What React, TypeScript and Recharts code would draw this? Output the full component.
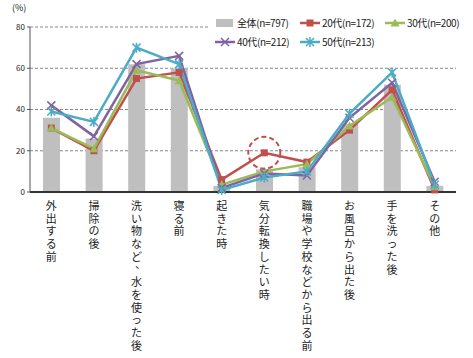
import { Bar, CartesianGrid, ComposedChart, Line, ReferenceDot, XAxis, YAxis } from "recharts";

const categories = [
  "外出する前",
  "掃除の後",
  "洗い物など、水を使った後",
  "寝る前",
  "起きた時",
  "気分転換したい時",
  "職場や学校などから出る前",
  "お風呂から出た後",
  "手を洗った後",
  "その他",
];
const total = [36, 26, 62, 60, 3, 11, 12, 33, 52, 3];
const age20 = [31, 20, 55, 58, 6, 19, 14.5, 30, 49.5, 1];
const age30 = [31, 21, 59, 54, 3.5, 10, 13.5, 32, 46, 2.5];
const age40 = [42, 27, 62, 66, 2, 9, 8, 36, 53, 5];
const age50 = [39, 34, 70, 62, 1, 7, 10, 38, 58, 3.5];
const yTicks = [0, 20, 40, 60, 80];

const seriesNames = ["全体(n=797)", "20代(n=172)", "30代(n=200)", "40代(n=212)", "50代(n=213)"];
const COLORS = ["#BFBFBF", "#C0504D", "#9BBB59", "#8064A2", "#4BACC6"];

const data = categories.map((name, i) => ({
  name,
  total: total[i],
  age20: age20[i],
  age30: age30[i],
  age40: age40[i],
  age50: age50[i],
}));

const FONT = "'Noto Sans CJK JP', sans-serif";

function Marker({ kind, cx, cy, color }: { kind: number; cx: number; cy: number; color: string }) {
  if (cx == null || cy == null) return null;
  if (kind === 1) return <rect x={cx - 3.5} y={cy - 3.5} width={7} height={7} fill={color} />;
  if (kind === 2)
    return <polygon points={`${cx},${cy - 4.5} ${cx + 4.5},${cy + 3.5} ${cx - 4.5},${cy + 3.5}`} fill={color} />;
  if (kind === 3)
    return (
      <path d={`M${cx - 4},${cy - 4}L${cx + 4},${cy + 4}M${cx - 4},${cy + 4}L${cx + 4},${cy - 4}`} stroke={color} strokeWidth={1.5} />
    );
  return (
    <path
      d={`M${cx - 4},${cy - 4}L${cx + 4},${cy + 4}M${cx - 4},${cy + 4}L${cx + 4},${cy - 4}M${cx},${cy - 5}L${cx},${cy + 5}`}
      stroke={color}
      strokeWidth={1.5}
    />
  );
}

// stacked characters, one per row
function VerticalTick(props: any) {
  const { x, y, payload } = props;
  const chars = Array.from(String(payload.value));
  return (
    <g>
      {chars.map((c, i) => (
        <text
          key={i}
          x={c === "、" ? x + 4 : x}
          y={y + 10 + i * 12.7 + (c === "、" ? -6 : 0)}
          textAnchor="middle"
          fontSize={11}
          fontFamily={FONT}
          fill="#222"
        >
          {c}
        </text>
      ))}
    </g>
  );
}

function LegendBox() {
  const item = (i: number) => (
    <div key={i} style={{ display: "flex", alignItems: "center", width: 85, whiteSpace: "nowrap" }}>
      <svg width={20} height={10}>
        {i === 0 ? (
          <rect x={1} y={1} width={17} height={8} fill={COLORS[0]} />
        ) : (
          <g>
            <line x1={0} y1={5} x2={20} y2={5} stroke={COLORS[i]} strokeWidth={2.5} />
            <Marker kind={i} cx={10} cy={5} color={COLORS[i]} />
          </g>
        )}
      </svg>
      <span style={{ marginLeft: 2, letterSpacing: -0.4 }}>{seriesNames[i]}</span>
    </div>
  );
  return (
    <div
      style={{
        position: "absolute",
        left: 210,
        top: 12,
        width: 258,
        background: "#fff",
        fontFamily: FONT,
        fontSize: 10,
        color: "#222",
        padding: "1px 0 1px 5px",
        lineHeight: "19px",
      }}
    >
      <div style={{ display: "flex" }}>{[0, 1, 2].map(item)}</div>
      <div style={{ display: "flex" }}>{[3, 4].map(item)}</div>
    </div>
  );
}

export default function App() {
  return (
    <div style={{ position: "fixed", left: 0, top: 0, width: 473, height: 358, background: "#fff" }}>
      <ComposedChart
        width={473}
        height={358}
        data={data}
        margin={{ top: 27, right: 17, bottom: 0, left: 0 }}
        barCategoryGap={0}
      >
        <CartesianGrid vertical={false} horizontal stroke="#888" strokeDasharray="3 2" />
        <XAxis
          dataKey="name"
          interval={0}
          tick={<VerticalTick />}
          tickLine={false}
          axisLine={{ stroke: "#333", strokeWidth: 2 }}
          height={166}
        />
        <YAxis
          domain={[0, 80]}
          ticks={yTicks}
          width={30}
          tick={{ fontSize: 8, fill: "#222", fontFamily: FONT }}
          tickSize={3}
          tickLine={{ stroke: "#555" }}
          axisLine={{ stroke: "#555" }}
        />
        <Bar dataKey="total" fill={COLORS[0]} barSize={17} isAnimationActive={false} />
        {(["age20", "age30", "age40", "age50"] as const).map((key, idx) => (
          <Line
            key={key}
            dataKey={key}
            stroke={COLORS[idx + 1]}
            strokeWidth={2.5}
            isAnimationActive={false}
            dot={(p: any) => <Marker key={p.index} kind={idx + 1} cx={p.cx} cy={p.cy} color={COLORS[idx + 1]} />}
            activeDot={false}
          />
        ))}
        <ReferenceDot
          x={categories[5]}
          y={age20[5]}
          r={16}
          fill="none"
          stroke="#C0504D"
          strokeWidth={2}
          strokeDasharray="5 3"
        />
      </ComposedChart>
      <LegendBox />
      <div style={{ position: "absolute", left: 12, top: 1, fontSize: 9, fontFamily: FONT, color: "#222" }}>(%)</div>
    </div>
  );
}
